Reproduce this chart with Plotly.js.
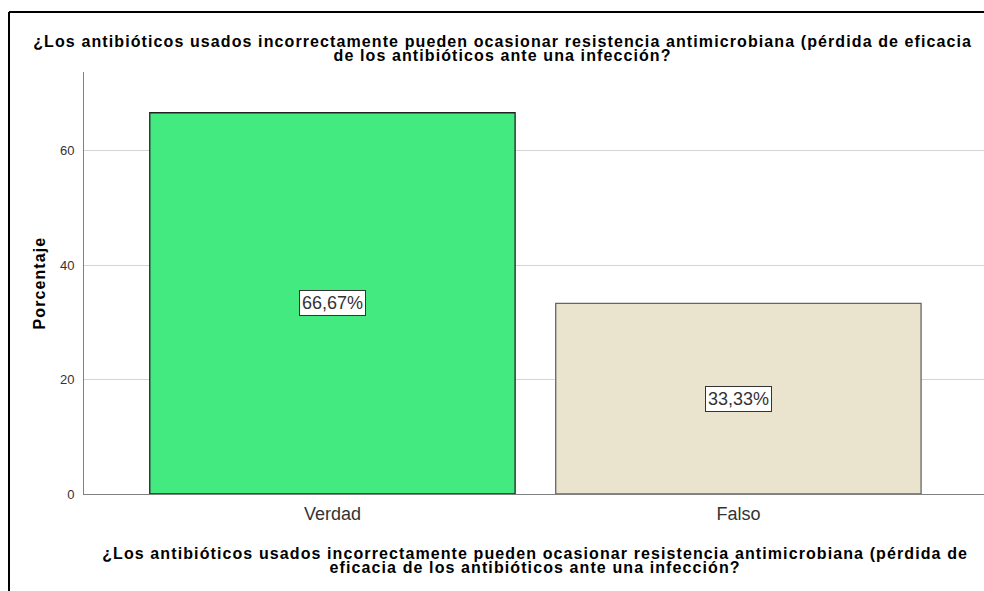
<!DOCTYPE html>
<html>
<head>
<meta charset="utf-8">
<script src="https://cdn.plot.ly/plotly-3.0.1.min.js"></script>
<style>
  html, body { margin: 0; padding: 0; background: #fff; overflow: hidden; }
  #chart { width: 984px; height: 591px; }
  /* loose tracking for the bold title texts */
  .annotation[data-index="2"] text, .annotation[data-index="3"] text,
  .annotation[data-index="4"] text, .annotation[data-index="5"] text,
  .annotation[data-index="6"] text { letter-spacing: 1.1px; }
</style>
</head>
<body>
<div id="chart"></div>
<script>
// Respuestas a la pregunta sobre resistencia antimicrobiana
const categorias = ["Verdad", "Falso"];
const porcentajes = [66.67, 33.33];
const coloresBarra = ["#42EA7F", "#EAE4CF"];
const bordesBarra = ["#222222", "#666666"];

const tituloLineas = [
  "¿Los antibióticos usados incorrectamente pueden ocasionar resistencia antimicrobiana (pérdida de eficacia",
  "de los antibióticos ante una infección?"
];
const tituloEjeX = [
  "¿Los antibióticos usados incorrectamente pueden ocasionar resistencia antimicrobiana (pérdida de",
  "eficacia de los antibióticos ante una infección?"
];
const tituloEjeY = "Porcentaje";
const marcasY = [0, 20, 40, 60];

const W = 984, H = 591;
const M = { l: 84, r: 0, t: 72, b: 97 };
const plotW = W - M.l - M.r, plotH = H - M.t - M.b;
// pixel -> paper helpers for decorations outside the plot area
const px = x => (x - M.l) / plotW;
const py = y => (H - M.b - y) / plotH;

const fuente = "Liberation Sans, Arial, sans-serif";

const etiquetas = porcentajes.map((v, i) => ({
  x: categorias[i], y: v / 2, xref: "x", yref: "y",
  text: v.toFixed(2).replace(".", ",") + "%",
  showarrow: false,
  font: { family: fuente, size: 18, color: "#333" },
  bgcolor: "#ffffff", bordercolor: "#333333", borderwidth: 1, borderpad: 2
}));

const titulo = tituloLineas.map((t, i) => ({
  x: px(502), y: py(41.5 + i * 14), xref: "paper", yref: "paper",
  xanchor: "center", yanchor: "middle", showarrow: false,
  text: "<b>" + t + "</b>",
  font: { family: fuente, size: 16, color: "#000" }
}));

const tituloX = tituloEjeX.map((t, i) => ({
  x: px(535), y: py(553 + i * 14), xref: "paper", yref: "paper",
  xanchor: "center", yanchor: "middle", showarrow: false,
  text: "<b>" + t + "</b>",
  font: { family: fuente, size: 16, color: "#000" }
}));

const tituloY = {
  x: px(39), y: py(283), xref: "paper", yref: "paper",
  xanchor: "center", yanchor: "middle", showarrow: false, textangle: -90,
  text: "<b>" + tituloEjeY + "</b>",
  font: { family: fuente, size: 16, color: "#000" }
};

const data = [{
  type: "bar",
  x: categorias,
  y: porcentajes,
  width: 0.9,
  marker: { color: coloresBarra, line: { color: bordesBarra, width: 1.3 } },
  hoverinfo: "skip"
}];

const layout = {
  width: W, height: H,
  margin: M,
  paper_bgcolor: "#ffffff",
  plot_bgcolor: "#ffffff",
  showlegend: false,
  xaxis: {
    range: [-0.612, 1.605],
    showgrid: false, zeroline: false,
    showline: true, linecolor: "#808080", linewidth: 1,
    ticks: "", ticklabelstandoff: 3,
    tickfont: { family: fuente, size: 18, color: "#333" }
  },
  yaxis: {
    range: [0, 73.8],
    tickvals: marcasY,
    showgrid: true, gridcolor: "#d4d4d4", gridwidth: 1,
    zeroline: false,
    showline: true, linecolor: "#808080", linewidth: 1,
    ticks: "", ticklabelstandoff: 6,
    tickfont: { family: fuente, size: 13, color: "#333" }
  },
  annotations: etiquetas.concat(titulo, tituloX, [tituloY]),
  shapes: [
    { type: "line", xref: "paper", yref: "paper", layer: "above",
      x0: px(9), x1: px(984), y0: py(12), y1: py(12),
      line: { color: "#000", width: 2 } },
    { type: "line", xref: "paper", yref: "paper", layer: "above",
      x0: px(9), x1: px(9), y0: py(12), y1: py(591),
      line: { color: "#000", width: 2 } }
  ]
};

Plotly.newPlot("chart", data, layout, { displayModeBar: false, staticPlot: true });
</script>
</body>
</html>
